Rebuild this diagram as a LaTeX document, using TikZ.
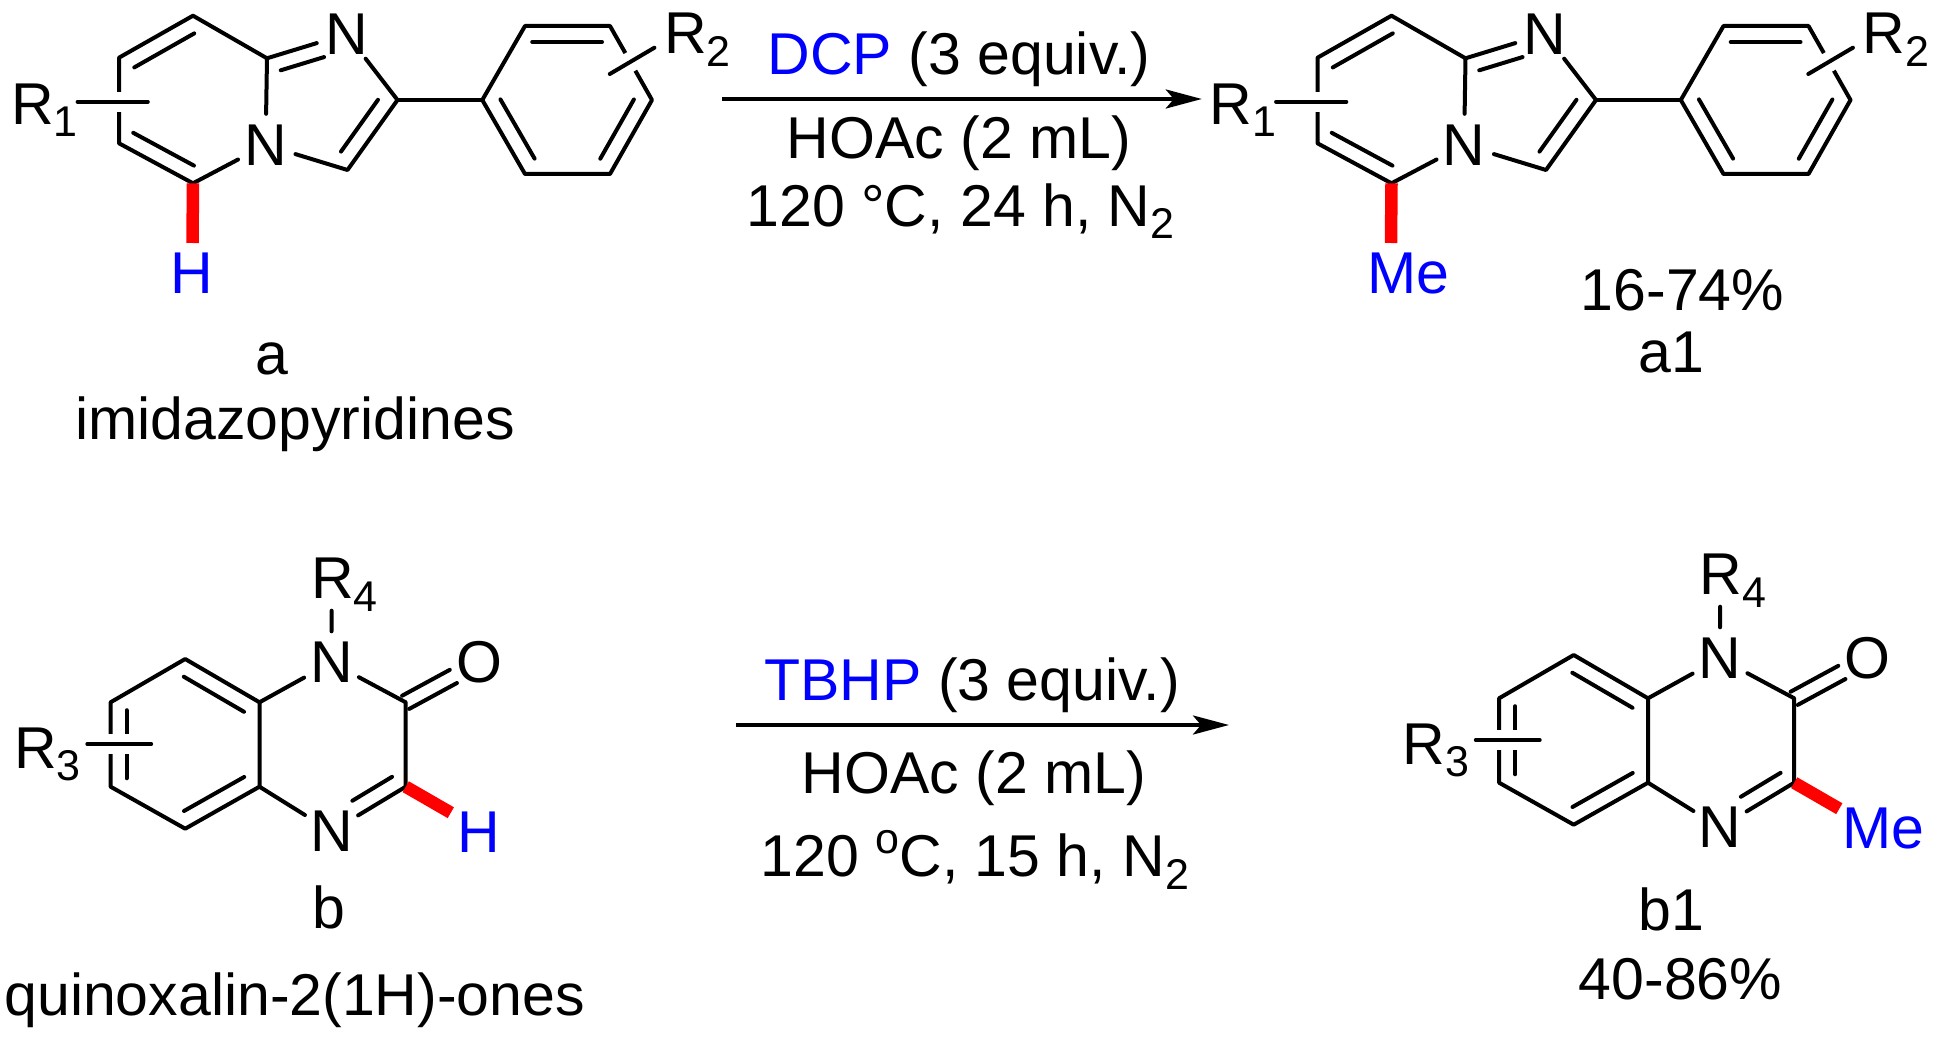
\documentclass[tikz,border=0pt]{standalone}
\usepackage{fontspec}
\setmainfont{Liberation Sans}
\usetikzlibrary{calc, arrows.meta}

\tikzset{
	bond/.style = {line width = 4pt, line cap = round, line join = round},
	halo/.style = {preaction = {draw, white, line width = 20pt, line cap = butt}},
	hotbond/.style = {line width = 12.5pt, red},
	atom/.style = {circle, inner sep = 0pt, minimum size = 62pt},
	label/.style = {inner sep = 0pt, anchor = base},
	leftlabel/.style = {inner sep = 0pt, anchor = base west},
	rxn/.style = {line width = 4pt, -{Stealth[length = 36pt, width = 19pt, inset = 8pt]}},
	every node/.style = {font = \fontsize{59}{62}\selectfont}
}

\newcommand{\lowsub}[1]{\raisebox{-12.5pt}{\fontsize{43}{43}\selectfont #1}}
\newcommand{\inbond}[5]{\draw[bond] ($(#1)!#3!(#2)!#5pt!-90:(#2)$) -- ($(#1)!#4!(#2)!#5pt!-90:(#2)$);}

\newcommand{\imidazopy}{
	\coordinate (p1) at (193,15.7);
	\coordinate (c8a) at (267,58.3);
	\coordinate (p4) at (193,183.3);
	\coordinate (p5) at (119,143.3);
	\coordinate (p6) at (119,57.7);
	\coordinate (c2) at (397.5,100);
	\coordinate (c3) at (347.5,170);
	\coordinate (ph1) at (482.3,100);
	\coordinate (ph2) at (525,26);
	\coordinate (ph3) at (610,26);
	\coordinate (ph4) at (652,100);
	\coordinate (ph5) at (610,174);
	\coordinate (ph6) at (525,174);
	\node[atom] (nb) at (265.6,145) {N};
	\node[atom] (nt) at (346.6,34) {N};
	\draw[bond] (p4) -- (p5) -- (p6) -- (p1) -- (c8a) -- (nb) -- (p4);
	\draw[bond] (c8a) -- (nt) -- (c2) -- (c3) -- (nb);
	\draw[bond] (c2) -- (ph1);
	\draw[bond] (ph1) -- (ph2) -- (ph3) -- (ph4) -- (ph5) -- (ph6) -- cycle;
	\inbond{p6}{p1}{.1}{.91}{16}
	\inbond{p4}{p5}{.09}{.91}{16}
	\inbond{c8a}{nt}{.116}{.66}{15.5}
	\inbond{c2}{c3}{.13}{.87}{16}
	\inbond{ph2}{ph3}{.085}{.906}{16}
	\inbond{ph4}{ph5}{.1}{.9}{16}
	\inbond{ph6}{ph1}{.1}{.9}{16}
	\coordinate (s1a) at (77.6,101.7);
	\coordinate (s1b) at (147.8,101.7);
	\coordinate (s2a) at (609.8,74);
	\coordinate (s2b) at (654.4,47.7);
	\draw[bond, halo] (s1a) -- (s1b);
	\draw[bond, halo] (s2a) -- (s2b);
	\node[leftlabel] (r1) at (11,124.5) {R\lowsub{1}};
	\node[leftlabel] (r2) at (664,54) {R\lowsub{2}};
	\coordinate (hot) at (192.5,243);
	\draw[hotbond] (p4) -- (hot);
}

\newcommand{\quinoxal}{
	\coordinate (q1) at (185.2,659);
	\coordinate (c8a) at (259.5,702.3);
	\coordinate (c4a) at (259.5,786.7);
	\coordinate (q4) at (185.2,828.7);
	\coordinate (q5) at (110.6,786.7);
	\coordinate (q6) at (110.6,702.3);
	\coordinate (c2) at (405.7,702.3);
	\coordinate (c3) at (405.7,786.7);
	\node[atom] (n1) at (331.4,662.5) {N};
	\node[atom] (n4) at (331.4,831.5) {N};
	\node[atom] (oxo) at (479,662.5) {O};
	\draw[bond] (q1) -- (c8a) -- (c4a) -- (q4) -- (q5) -- (q6) -- cycle;
	\draw[bond] (c8a) -- (n1) -- (c2) -- (c3) -- (n4) -- (c4a);
	\inbond{q1}{c8a}{.09}{.9}{16}
	\inbond{c4a}{q4}{.1}{.91}{16}
	\inbond{q5}{q6}{.1}{.906}{16}
	\inbond{c3}{n4}{.076}{.61}{15.5}
	\inbond{c2}{oxo}{0}{.65}{-7.5}
	\inbond{c2}{oxo}{0}{.65}{7.5}
	\coordinate (s3a) at (87.3,744);
	\coordinate (s3b) at (151.2,744);
	\draw[bond, halo] (s3a) -- (s3b);
	\coordinate (s4) at (331.6,610.7);
	\draw[bond] (s4) -- (n1);
	\node[leftlabel] (r3) at (14,768) {R\lowsub{3}};
	\node[leftlabel] (r4) at (311,598.5) {R\lowsub{4}};
	\coordinate (hot) at (450.8,812.7);
	\draw[hotbond] (c3) -- (hot);
}

\begin{document}
\begin{tikzpicture}[x = 1pt, y = -1pt]
	\useasboundingbox (0,0) rectangle (1952,1043);
	
	\imidazopy
	\node[label, blue] (hh) at (192,293.5) {H};
	\node[label] (lba) at (271.5,374) {a};
	\node[label] (lbaname) at (295,439) {imidazopyridines};
	
	\begin{scope}[shift = {(1198.5,0)}]
		\imidazopy
		\node[leftlabel, blue] (me) at (169,293.5) {Me};
	\end{scope}
	\node[label] (yld) at (1682.6,310) {16-74\%};
	\node[label] (lbaa) at (1671.7,372.5) {a1};
	
	\coordinate (ra) at (722,99);
	\coordinate (rb) at (1201.8,99);
	\draw[rxn] (ra) -- (rb);
	\node[label] (dcp) at (959,74.5) {{\color{blue}DCP} (3 equiv.)};
	\node[label] (acid) at (959,158.5) {HOAc (2 mL)};
	\node[label] (cond) at (960.5,226) {120 °C, 24 h, N\lowsub{2}};
	
	\quinoxal
	\node[label, blue] (hq) at (479,852.5) {H};
	\node[label] (lbb) at (329,928) {b};
	\node[label] (lbbname) at (294.7,1015.5) {quinoxalin-2(1H)-ones};
	
	\begin{scope}[shift = {(1388.5,-4)}]
		\quinoxal
		\node[leftlabel, blue] (meq) at (454,852.5) {Me};
	\end{scope}
	\node[label] (lbbb) at (1671.5,930) {b1};
	\node[label] (yldb) at (1680.6,999) {40-86\%};
	
	\coordinate (rc) at (736,725);
	\coordinate (rd) at (1229,725);
	\draw[rxn] (rc) -- (rd);
	\node[label] (tbhp) at (972,700.5) {{\color{blue}TBHP} (3 equiv.)};
	\node[label] (acidb) at (974,793) {HOAc (2 mL)};
	\node[label] (condb) at (975,876.5) {120 \raisebox{23pt}{\fontsize{43}{43}\selectfont o}C, 15 h, N\lowsub{2}};
\end{tikzpicture}
\end{document}
